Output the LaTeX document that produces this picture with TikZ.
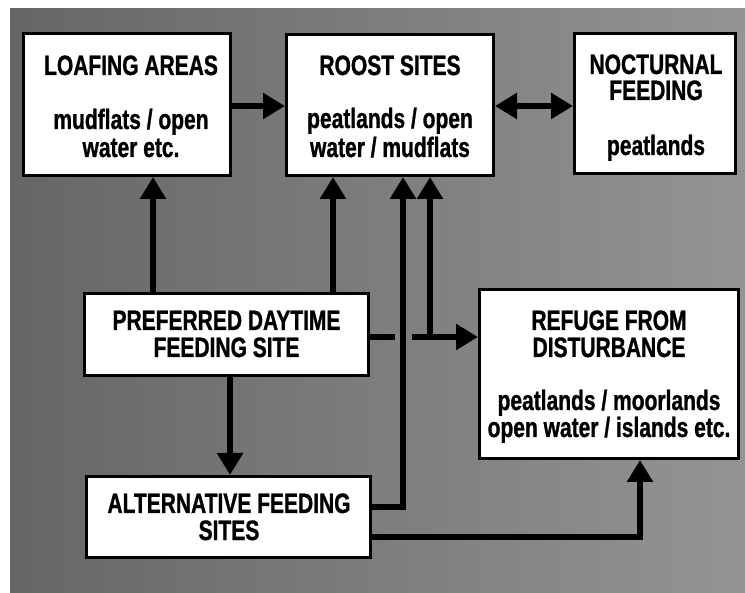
\documentclass[tikz,border=0pt]{standalone}
\usepackage{fontspec}
\newfontfamily\labfont[FakeStretch=0.75,FakeBold=1]{Liberation Sans}
\usetikzlibrary{arrows.meta,calc}
\definecolor{gapcol}{gray}{0.50}
\begin{document}
\begin{tikzpicture}[x=1pt,y=-1pt,
  box/.style={draw=black, line width=3pt, fill=white, rectangle, inner sep=0pt},
  lab/.style={font=\labfont\bfseries\fontsize{28}{28}\selectfont, inner sep=0pt, anchor=base},
  arr/.style={line width=6pt, -{Triangle[width=25pt,length=22pt]}},
  dbl/.style={line width=6pt, {Triangle[width=25pt,length=22pt]}-{Triangle[width=25pt,length=22pt]}}]
\useasboundingbox (0,0) rectangle (745,593);
\shade[left color=black!60, right color=black!42] (10,9) rectangle (745,593);

% boxes
\node[box, minimum width=207pt, minimum height=142pt] (loaf) at (127,104.5) {};
\node[box, minimum width=207pt, minimum height=141pt] (roost) at (390,105) {};
\node[box, minimum width=161pt, minimum height=140pt] (noct) at (655,103.5) {};
\node[box, minimum width=284pt, minimum height=82pt] (pref) at (226.5,334.5) {};
\node[box, minimum width=259pt, minimum height=169pt] (refuge) at (609,374) {};
\node[box, minimum width=284pt, minimum height=81pt] (alt) at (228.5,517) {};

% texts
\node[lab] (loafA) at (131,75) {LOAFING AREAS};
\node[lab] (loafB) at (131,129) {mudflats / open};
\node[lab] (loafC) at (131,157) {water etc.};
\node[lab] (roostA) at (390,75) {ROOST SITES};
\node[lab] (roostB) at (390,128) {peatlands / open};
\node[lab] (roostC) at (390,157) {water / mudflats};
\node[lab] (noctA) at (656,74) {NOCTURNAL};
\node[lab] (noctB) at (656,100) {FEEDING};
\node[lab] (noctC) at (656,155) {peatlands};
\node[lab] (prefA) at (226.5,330) {PREFERRED DAYTIME};
\node[lab] (prefB) at (226.5,357) {FEEDING SITE};
\node[lab] (refA) at (609,330) {REFUGE FROM};
\node[lab] (refB) at (609,357) {DISTURBANCE};
\node[lab] (refC) at (609,410) {peatlands / moorlands};
\node[lab] (refD) at (609,437) {open water / islands etc.};
\node[lab] (altA) at (229,513) {ALTERNATIVE FEEDING};
\node[lab] (altB) at (229,540) {SITES};

% lanes
\coordinate (xa) at (153,0);
\coordinate (xb) at (333,0);
\coordinate (xc) at (230,0);
\coordinate (xd) at (403,0);
\coordinate (xe) at (430,0);
\coordinate (xf) at (640,0);
\coordinate (ytop) at (0,106);
\coordinate (ya) at (0,337);
\coordinate (yb) at (0,507);
\coordinate (yc) at (0,537);

% connectors
\draw[arr] (loaf.east |- ytop) -- (roost.west |- ytop);
\draw[dbl] (roost.east |- ytop) -- (noct.west |- ytop);
\draw[arr] (pref.north -| xa) -- (loaf.south -| xa);
\draw[arr] (pref.north -| xb) -- (roost.south -| xb);
\draw[arr] (pref.south -| xc) -- (alt.north -| xc);
\draw[arr] (pref.east |- ya) -- (refuge.west |- ya);
\coordinate (jn) at (xe |- ya);
\draw[arr] ($(jn)+(0,3)$) -- (roost.south -| xe);
\coordinate (cross) at (xd |- ya);
\fill[gapcol] ($(cross)+(-8.5,-4)$) rectangle ($(cross)+(8.5,4)$);
\draw[arr] (alt.east |- yb) -| (roost.south -| xd);
\draw[arr] (alt.east |- yc) -| (refuge.south -| xf);
\end{tikzpicture}
\end{document}
